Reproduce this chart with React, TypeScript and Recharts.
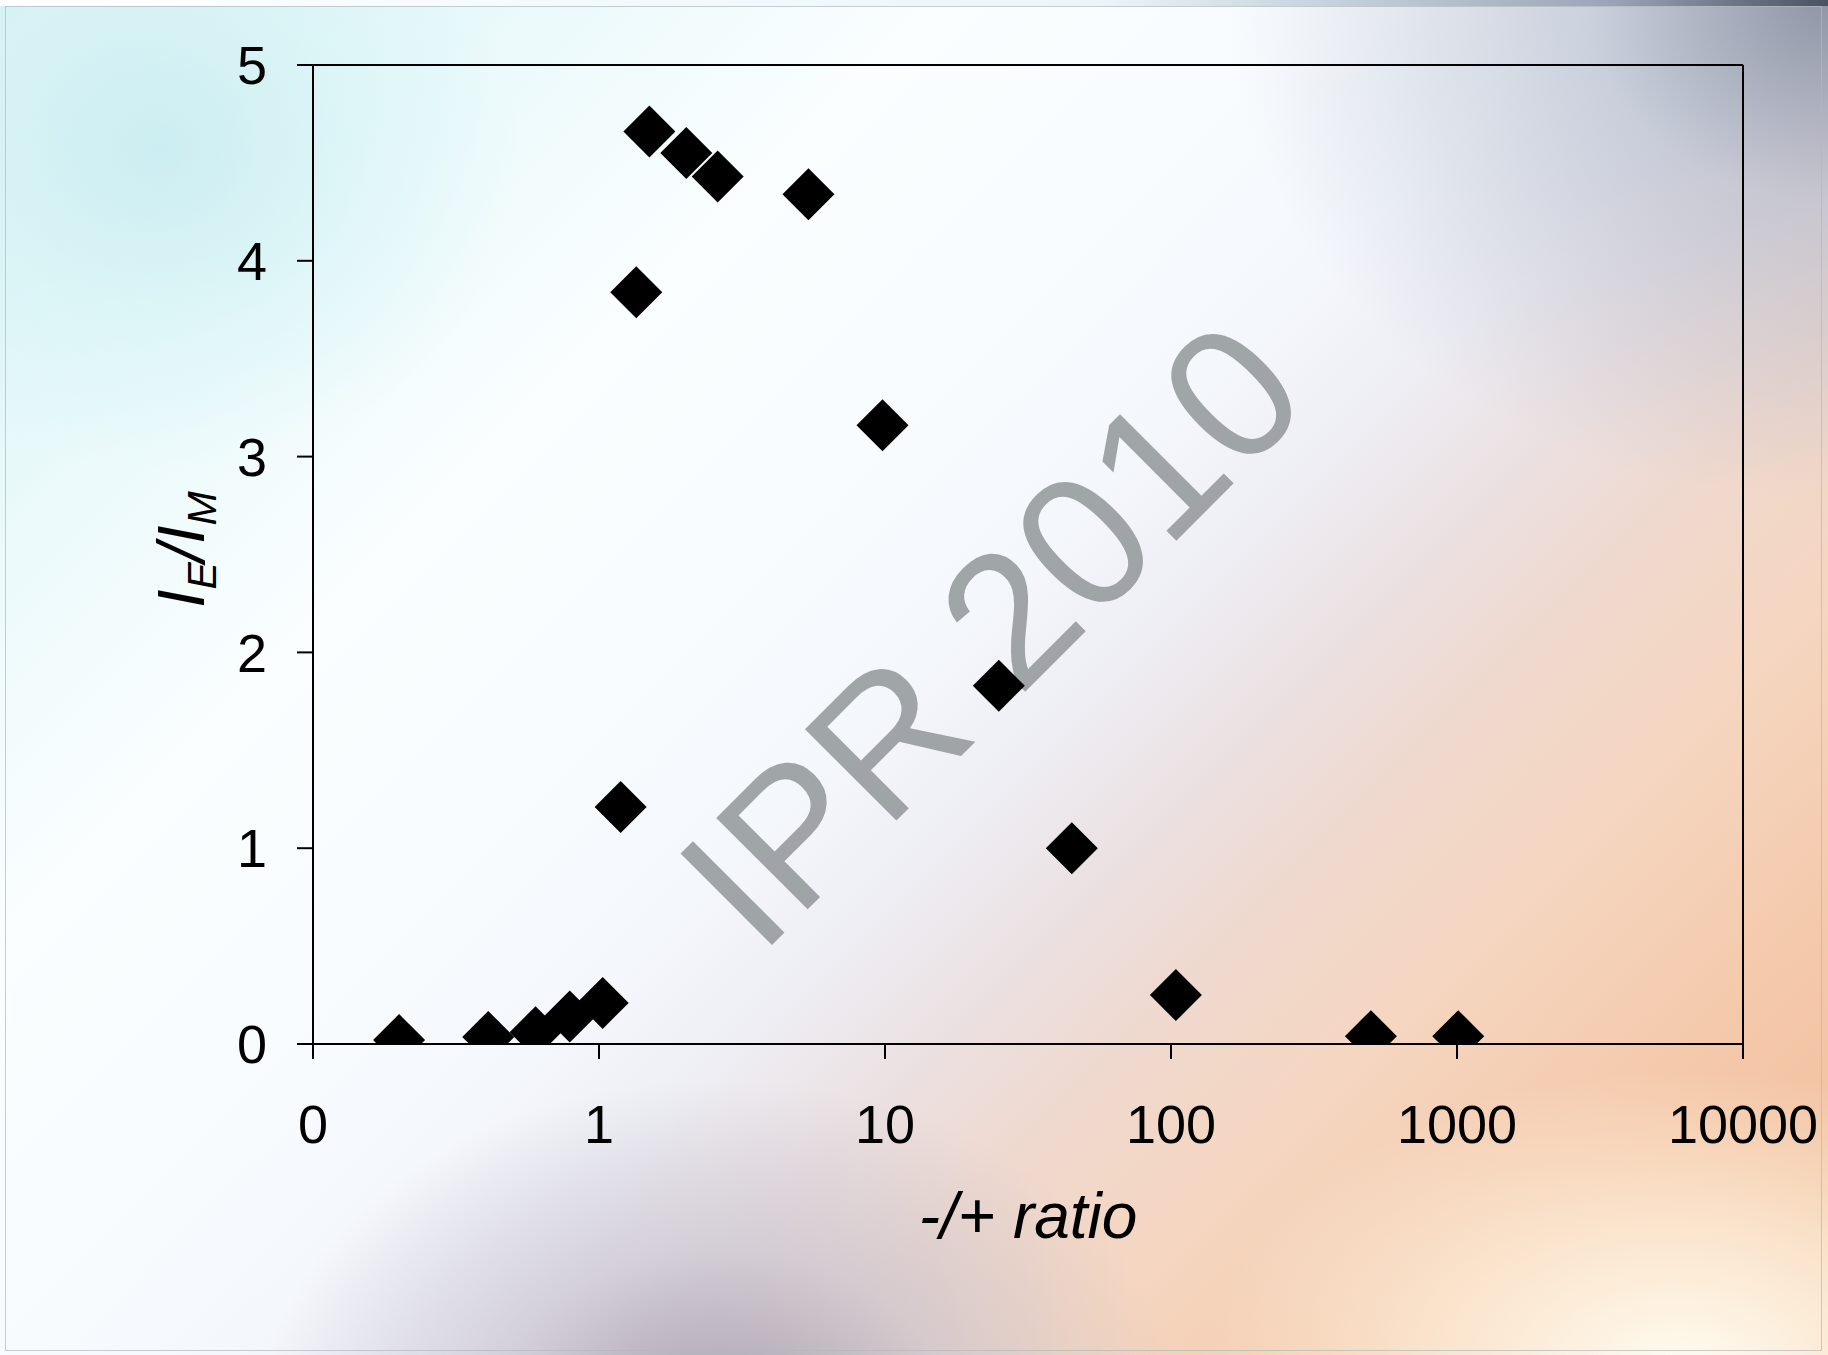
import React from 'react';
import { ScatterChart, Scatter, XAxis, YAxis, ReferenceLine, Label } from 'recharts';

// -/+ ratio (log scale) against the I_E / I_M intensity ratio
const ratios = [0.2, 0.41, 0.6, 0.79, 1.03, 1.19, 1.35, 1.5, 2.02, 2.6, 5.4, 9.8, 25, 45, 104, 500, 1010];
const intensityRatios = [0.02, 0.036, 0.06, 0.14, 0.21, 1.21, 3.84, 4.66, 4.55, 4.43, 4.34, 3.16, 1.83, 1.0, 0.25, 0.04, 0.04];
const xTicks = [0.1, 1, 10, 100, 1000, 10000];
const yTicks = [0, 1, 2, 3, 4, 5];

const points = ratios.map((x, i) => ({ x, y: intensityRatios[i] }));

const FONT = "'Liberation Sans', Arial, Helvetica, sans-serif";
const W = 1828;
const H = 1355;

const background = [
  'radial-gradient(ellipse 360px 320px at 160px 150px, rgba(200,236,240,0.85) 0%, rgba(214,243,246,0.55) 55%, rgba(230,250,252,0) 100%)',
  'radial-gradient(ellipse 600px 500px at 1828px 0px, rgba(120,128,148,0.8) 0%, rgba(170,178,196,0.55) 40%, rgba(210,218,230,0) 100%)',
  'radial-gradient(ellipse 460px 340px at 720px 1420px, rgba(165,158,174,0.95) 0%, rgba(196,192,206,0.6) 50%, rgba(220,220,232,0) 100%)',
  'radial-gradient(ellipse 480px 300px at 1680px 1370px, rgba(255,252,240,1) 0%, rgba(255,248,230,0.6) 50%, rgba(255,245,225,0) 100%)',
  'linear-gradient(135deg, #d8f2f4 0%, #e8f9fa 15%, #fbfeff 30%, #f8fbfe 43%, #f4f7fc 50%, #eeeef4 56%, #ebe1e2 62%, #efd9cf 68%, #f5d6c0 76%, #f4c7a8 88%, #f0bf9c 100%)',
].join(',');

// square marker turned 45 degrees
const Diamond = (props: any) => {
  const { cx, cy } = props;
  const r = 26;
  return <path d={`M${cx},${cy - r}L${cx + r},${cy}L${cx},${cy + r}L${cx - r},${cy}Z`} fill="#000" />;
};

const YTitle = (props: any) => {
  const { viewBox } = props;
  const x = viewBox.x + 204;
  const y = viewBox.y + viewBox.height / 2 - 5;
  return (
    <text
      transform={`translate(${x},${y}) rotate(-90)`}
      textAnchor="middle"
      fontFamily={FONT}
      fontStyle="italic"
      fontSize={66}
      fill="#000"
    >
      <tspan>I</tspan>
      <tspan fontSize={41} dy={12}>E</tspan>
      <tspan dy={-12}>/I</tspan>
      <tspan fontSize={41} dy={12}>M</tspan>
    </text>
  );
};

const formatRatio = (v: number) => (v < 1 ? '0' : String(v));

export default function App() {
  return (
    <div style={{ position: 'absolute', left: 0, top: 0, width: W, height: H, overflow: 'hidden', background }}>
      <div
        style={{
          position: 'absolute',
          left: 0,
          top: 0,
          width: W,
          height: 6,
          background: 'linear-gradient(90deg, #ffffff 0%, #eaf6fa 60%, #9aa6b6 88%, #4a5262 100%)',
        }}
      />
      <div
        style={{
          position: 'absolute',
          left: 5,
          top: 6,
          width: W - 11,
          height: H - 10,
          border: '1px solid rgba(175,185,190,0.7)',
          boxSizing: 'border-box',
        }}
      />
      <svg width={W} height={H} style={{ position: 'absolute', left: 0, top: 0 }}>
        <text
          x={1037}
          y={680}
          transform="rotate(-45 1037 680)"
          textAnchor="middle"
          fontFamily={FONT}
          fontSize={188}
          fill="#7f8588"
          fillOpacity={0.72}
        >
          IPR 2010
        </text>
      </svg>
      <div style={{ position: 'absolute', left: 0, top: 0 }}>
        <ScatterChart width={W} height={H} margin={{ top: 65, right: 85, bottom: 0, left: 0 }}>
          <XAxis
            type="number"
            dataKey="x"
            scale="log"
            domain={[0.1, 10000]}
            ticks={xTicks}
            interval={0}
            allowDataOverflow
            tickFormatter={formatRatio}
            height={311}
            axisLine={{ stroke: '#000', strokeWidth: 2 }}
            tickLine={{ stroke: '#000', strokeWidth: 2 }}
            tickSize={15}
            tickMargin={46}
            tick={{ fill: '#000', fontSize: 54, fontFamily: FONT }}
          >
            <Label
              value="-/+ ratio"
              position="insideBottom"
              offset={117}
              fill="#000"
              fontSize={64}
              fontStyle="italic"
              fontFamily={FONT}
            />
          </XAxis>
          <YAxis
            type="number"
            dataKey="y"
            domain={[0, 5]}
            ticks={yTicks}
            interval={0}
            allowDataOverflow
            width={313}
            axisLine={{ stroke: '#000', strokeWidth: 2 }}
            tickLine={{ stroke: '#000', strokeWidth: 2 }}
            tickSize={16}
            tickMargin={30}
            tick={{ fill: '#000', fontSize: 54, fontFamily: FONT }}
          >
            <Label content={YTitle} />
          </YAxis>
          <ReferenceLine y={5} stroke="#000" strokeWidth={2} />
          <ReferenceLine x={10000} stroke="#000" strokeWidth={2} />
          <Scatter data={points} shape={Diamond} isAnimationActive={false} />
        </ScatterChart>
      </div>
    </div>
  );
}
